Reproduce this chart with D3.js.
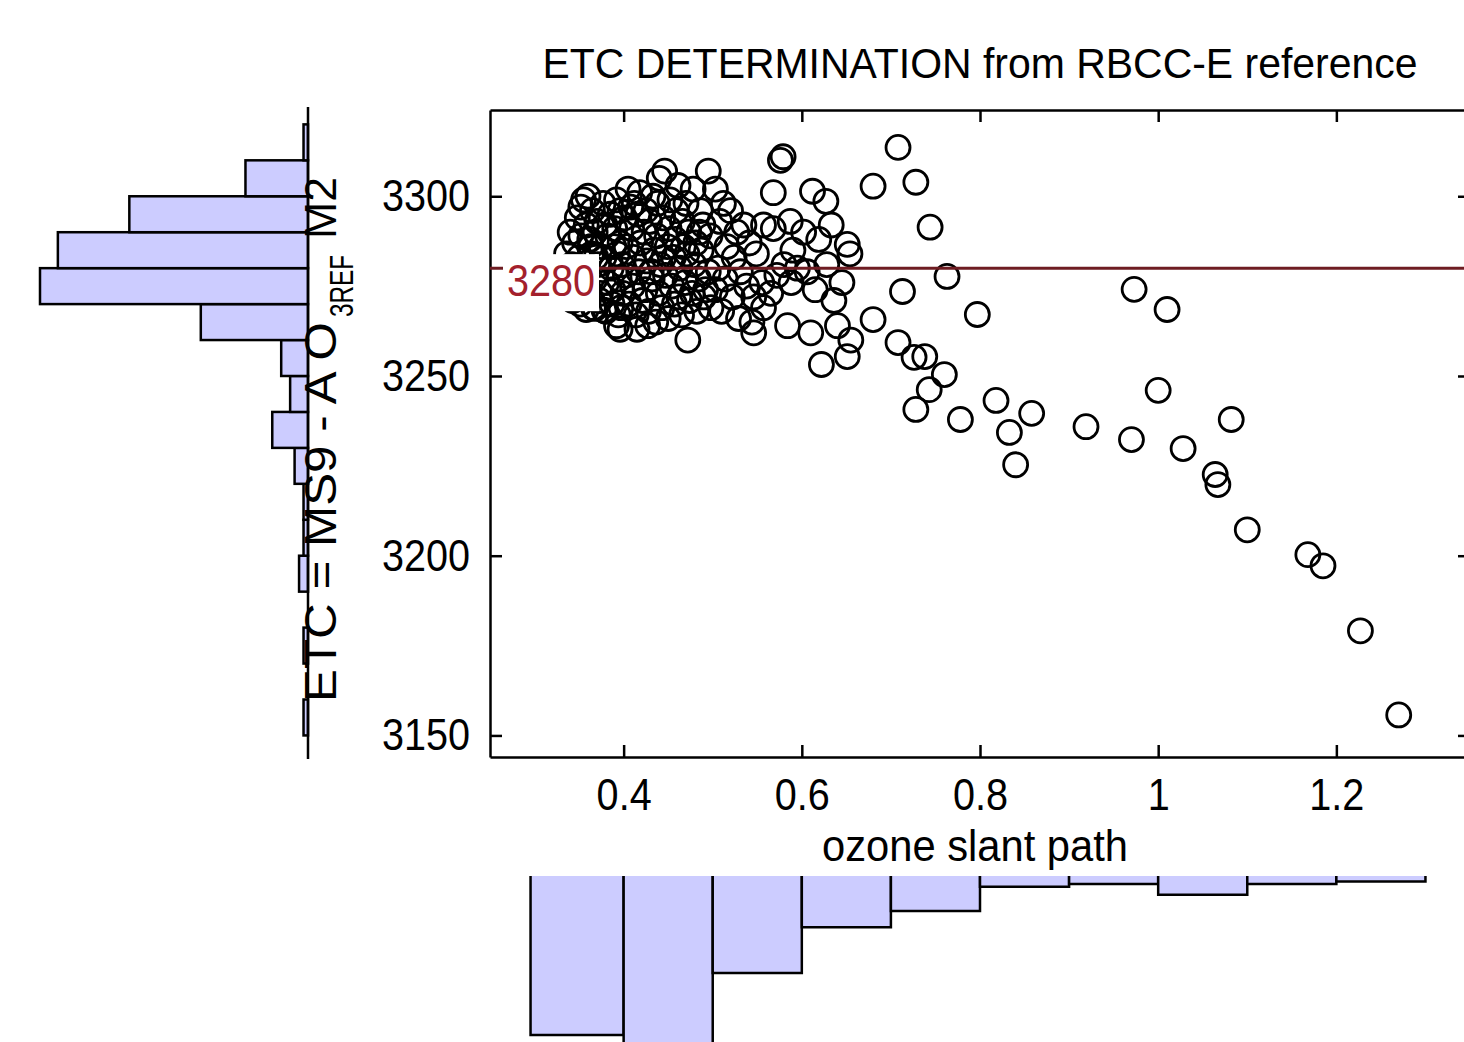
<!DOCTYPE html>
<html>
<head>
<meta charset="utf-8">
<script src="https://cdn.jsdelivr.net/npm/d3@7"></script>
<style>
  body { margin: 0; background: #fff; overflow: hidden; }
  svg text { font-family: "Liberation Sans", Arial, sans-serif; fill: #000; }
</style>
</head>
<body>
<div id="chart"></div>
<script>
// ETC vs ozone slant path: [ozone slant path, ETC]
const scatterPoints = [
  // 0.3 - 0.4
  [0.355,3299],[0.352,3297],[0.360,3300],[0.365,3296],[0.348,3294],[0.358,3292],[0.370,3293],[0.377,3298],[0.385,3295],[0.392,3299],
  [0.340,3290],[0.345,3287],[0.352,3289],[0.362,3288],[0.368,3290],[0.375,3286],[0.382,3289],[0.390,3291],[0.396,3287],[0.336,3284],
  [0.342,3281],[0.350,3283],[0.357,3280],[0.364,3284],[0.371,3281],[0.378,3283],[0.386,3280],[0.393,3284],[0.398,3281],[0.338,3277],
  [0.346,3275],[0.354,3278],[0.361,3274],[0.368,3277],[0.374,3273],[0.381,3276],[0.388,3274],[0.395,3277],[0.343,3271],[0.351,3270],
  [0.359,3272],[0.366,3269],[0.373,3271],[0.380,3268],[0.387,3270],[0.394,3267],[0.399,3273],[0.358,3268.5],[0.368,3268.8],[0.378,3268.3],
  [0.392,3264],[0.396,3263],[0.397,3269],[0.347,3279],[0.363,3286],[0.379,3292],[0.389,3286],[0.396,3296],[0.369,3283],
  // 0.4 - 0.5
  [0.405,3302],[0.412,3298],[0.418,3301],[0.425,3296],[0.433,3300],[0.440,3305],[0.446,3307],[0.452,3299],[0.461,3303],[0.470,3298],
  [0.478,3302],[0.486,3296],[0.495,3307],[0.401,3294],[0.409,3291],[0.416,3295],[0.423,3290],[0.429,3293],[0.437,3289],[0.444,3294],
  [0.451,3291],[0.458,3288],[0.466,3293],[0.473,3290],[0.481,3287],[0.489,3292],[0.497,3289],[0.403,3286],[0.411,3283],[0.419,3287],
  [0.426,3282],[0.434,3285],[0.441,3281],[0.449,3286],[0.456,3283],[0.463,3280],[0.471,3284],[0.479,3281],[0.487,3285],[0.495,3279],
  [0.402,3278],[0.410,3275],[0.417,3279],[0.424,3274],[0.432,3277],[0.439,3273],[0.447,3278],[0.454,3275],[0.462,3272],[0.469,3276],
  [0.477,3273],[0.484,3277],[0.492,3274],[0.406,3270],[0.414,3267],[0.421,3271],[0.428,3268],[0.436,3265],[0.443,3269],[0.450,3266],
  [0.457,3270],[0.465,3267],[0.474,3271],[0.482,3268],[0.490,3272],[0.498,3269],[0.472,3260],[0.415,3263],[0.427,3264],[0.408,3297],
  [0.431,3279],[0.445,3283],[0.459,3296],[0.467,3286],[0.485,3290],[0.438,3298],
  // 0.5 - 0.6
  [0.503,3302],[0.512,3298],[0.508,3293],[0.520,3296],[0.527,3290],[0.535,3292],[0.516,3286],[0.524,3283],[0.541,3287],[0.549,3284],
  [0.506,3280],[0.514,3277],[0.531,3279],[0.538,3275],[0.546,3272],[0.555,3276],[0.522,3272],[0.503,3274],[0.510,3268],[0.529,3266],
  [0.544,3265],[0.546,3262],[0.557,3269],[0.565,3273],[0.572,3278],[0.580,3281],[0.588,3276],[0.595,3280],[0.568,3291],[0.557,3292],
  [0.587,3293],[0.576,3310],[0.579,3311],[0.568,3301],[0.590,3285],[0.584,3264],
  // 0.6 - 0.7
  [0.622,3253.2],[0.651,3255.4],[0.680,3302.8],[0.680,3265.7],[0.612,3301.4],[0.627,3298.6],[0.619,3288],[0.651,3286.6],[0.654,3284],[0.610,3262],
  [0.640,3264],[0.655,3260],[0.606,3279],[0.615,3274],[0.628,3281],[0.636,3271],[0.602,3290],[0.633,3292],[0.645,3276],
  // 0.7 - 0.8
  [0.708,3313.6],[0.728,3303.9],[0.744,3291.4],[0.763,3277.7],[0.713,3273.5],[0.797,3267.1],[0.726,3255.2],[0.738,3255.4],[0.760,3250.4],[0.743,3246.2],
  [0.728,3240.7],[0.778,3237.9],[0.708,3259.3],
  // 0.8 and above
  [0.818,3243.2],[0.858,3239.6],[0.833,3234.3],[0.840,3225.3],
  [0.919,3235.9],[0.970,3232.3],[0.973,3274.1],
  [1.000,3246.0],[1.010,3268.5],[1.082,3237.9],[1.028,3229.8],[1.064,3222.6],[1.067,3219.8],
  [1.100,3207.2],[1.168,3200.3],[1.185,3197.2],
  [1.227,3179.1],[1.270,3155.7]
];

// histogram of ETC (left panel), bins of 10
const etcBinStart = [3150, 3160, 3170, 3180, 3190, 3200, 3210, 3220, 3230, 3240, 3250, 3260, 3270, 3280, 3290, 3300, 3310];
const etcBinCount = [1, 0, 1, 0, 2, 1, 1, 3, 8, 4, 6, 24, 60, 56, 40, 14, 1];

// histogram of ozone slant path (bottom panel), bins of 0.1
const ozoneBinStart = [0.3, 0.4, 0.5, 0.6, 0.7, 0.8, 0.9, 1.0, 1.1, 1.2];
const ozoneBinCount = [59, 76, 36, 19, 13, 4, 3, 7, 3, 2];

const xTicks = [0.4, 0.6, 0.8, 1, 1.2];
const yTicks = [3150, 3200, 3250, 3300];
const referenceEtc = 3280;

const width = 1464, height = 1042;
const fontSize = 45;

const svg = d3.select("#chart")
    .append("svg")
    .attr("width", width)
    .attr("height", height);

// main scales
const x = d3.scaleLinear().domain([0.25, 1.35]).range([490, 1470]);
const y = d3.scaleLinear().domain([3144, 3324]).range([757, 110]);

// histogram count scales
const leftCount = d3.scaleLinear().domain([0, 60]).range([308, 40]);
const bottomCount = d3.scaleLinear().domain([0, 59]).range([876, 1035]);

// squeeze text horizontally, the figure font is narrow
function squeeze(sel, f) {
    sel.each(function () {
        const len = this.getComputedTextLength();
        d3.select(this).attr("textLength", len * f).attr("lengthAdjust", "spacingAndGlyphs");
    });
}

function styleAxis(g) {
    g.select(".domain").attr("stroke", "#000").attr("stroke-width", 2.5);
    g.selectAll(".tick line").attr("stroke", "#000").attr("stroke-width", 2.5);
    g.selectAll(".tick text")
        .style("font-size", fontSize + "px")
        .style("font-family", '"Liberation Sans", Arial, sans-serif')
        .attr("fill", "#000")
        .call(squeeze, 0.88);
}

// scatter points
svg.append("g")
    .selectAll("circle")
    .data(scatterPoints)
    .join("circle")
    .attr("cx", d => x(d[0]))
    .attr("cy", d => y(d[1]))
    .attr("r", 12)
    .attr("fill", "none")
    .attr("stroke", "#000")
    .attr("stroke-width", 2.8);

// axes, ticks pointing inwards on all four sides
svg.append("g")
    .attr("transform", `translate(0, ${y.range()[0]})`)
    .call(d3.axisBottom(x).tickValues(xTicks).tickSizeInner(-12).tickSizeOuter(0).tickPadding(21).tickFormat(d3.format("~g")))
    .call(styleAxis);

svg.append("g")
    .attr("transform", `translate(0, ${y.range()[1]})`)
    .call(d3.axisTop(x).tickValues(xTicks).tickSizeInner(-12).tickSizeOuter(0).tickFormat(() => ""))
    .call(styleAxis);

svg.append("g")
    .attr("transform", `translate(${x.range()[0]}, 0)`)
    .call(d3.axisLeft(y).tickValues(yTicks).tickSizeInner(-12).tickSizeOuter(0).tickPadding(20).tickFormat(d3.format("d")))
    .call(styleAxis);

svg.append("g")
    .attr("transform", `translate(${x.range()[1]}, 0)`)
    .call(d3.axisRight(y).tickValues(yTicks).tickSizeInner(-12).tickSizeOuter(0).tickFormat(() => ""))
    .call(styleAxis);

// reference line
svg.append("line")
    .attr("x1", x.range()[0])
    .attr("x2", x.range()[1])
    .attr("y1", y(referenceEtc))
    .attr("y2", y(referenceEtc))
    .attr("stroke", "#6e1c22")
    .attr("stroke-width", 3);

svg.append("rect")
    .attr("x", 503)
    .attr("y", y(referenceEtc) - 14)
    .attr("width", 96)
    .attr("height", 57)
    .attr("fill", "#fff");

svg.append("text")
    .attr("x", 507)
    .attr("y", y(referenceEtc) + 28)
    .style("font-size", fontSize + "px")
    .style("fill", "#a3202c")
    .text(referenceEtc)
    .call(squeeze, 0.88);

// left histogram of ETC
svg.append("g")
    .selectAll("rect")
    .data(etcBinStart.map((s, i) => ({ start: s, count: etcBinCount[i] })).filter(d => d.count > 0))
    .join("rect")
    .attr("x", d => leftCount(d.count))
    .attr("y", d => y(d.start + 10))
    .attr("width", d => leftCount(0) - leftCount(d.count))
    .attr("height", d => y(d.start) - y(d.start + 10))
    .attr("fill", "#ccccff")
    .attr("stroke", "#000")
    .attr("stroke-width", 2.5);

svg.append("line")
    .attr("x1", leftCount(0))
    .attr("x2", leftCount(0))
    .attr("y1", y.range()[1] - 3)
    .attr("y2", y.range()[0] + 2)
    .attr("stroke", "#000")
    .attr("stroke-width", 2.5);

// bottom histogram of ozone slant path (bars hang down, no top edge)
svg.append("g")
    .selectAll("path")
    .data(ozoneBinStart.map((s, i) => ({ start: s, count: ozoneBinCount[i] })))
    .join("path")
    .attr("d", d => {
        const x0 = x(d.start) - (d.start === 0.3 ? 4 : 0), x1 = x(d.start + 0.1);
        const top = bottomCount(0), bot = bottomCount(d.count);
        return `M${x0},${top}V${bot}H${x1}V${top}`;
    })
    .attr("fill", "#ccccff")
    .attr("stroke", "#000")
    .attr("stroke-width", 2.5);

// title
svg.append("text")
    .attr("x", 980)
    .attr("y", 78)
    .attr("text-anchor", "middle")
    .style("font-size", "43px")
    .attr("textLength", 875)
    .attr("lengthAdjust", "spacingAndGlyphs")
    .text("ETC DETERMINATION from RBCC-E reference");

// x-axis label
svg.append("text")
    .attr("x", 975)
    .attr("y", 861)
    .attr("text-anchor", "middle")
    .style("font-size", fontSize + "px")
    .attr("textLength", 306)
    .attr("lengthAdjust", "spacingAndGlyphs")
    .text("ozone slant path");

// y-axis label, reads bottom to top with a subscript
const ylab = svg.append("g")
    .attr("transform", "translate(336, 702) rotate(-90)");

ylab.append("text")
    .attr("x", 0)
    .attr("y", 0)
    .style("font-size", fontSize + "px")
    .attr("textLength", 380)
    .attr("lengthAdjust", "spacingAndGlyphs")
    .text("ETC = MS9 - A O");

ylab.append("text")
    .attr("x", 385)
    .attr("y", 17)
    .style("font-size", "33px")
    .attr("textLength", 62)
    .attr("lengthAdjust", "spacingAndGlyphs")
    .text("3REF");

ylab.append("text")
    .attr("x", 463)
    .attr("y", 0)
    .style("font-size", fontSize + "px")
    .attr("textLength", 62)
    .attr("lengthAdjust", "spacingAndGlyphs")
    .text("M2");
</script>
</body>
</html>
